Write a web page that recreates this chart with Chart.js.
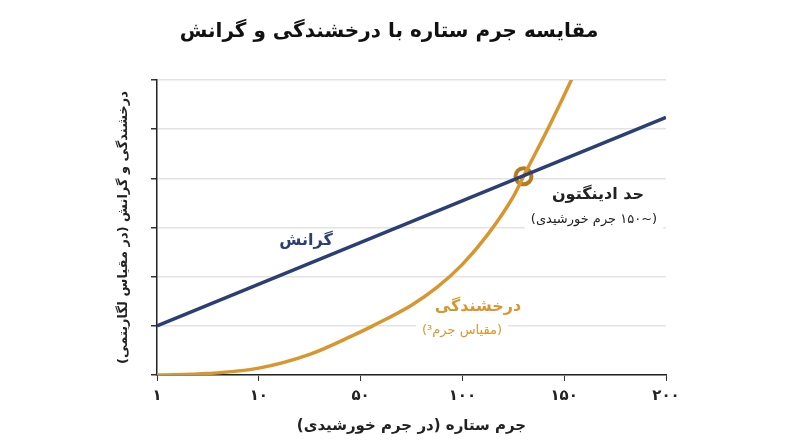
<!DOCTYPE html>
<html><head><meta charset="utf-8">
<script src="https://cdn.jsdelivr.net/npm/chart.js@4/dist/chart.umd.min.js"></script>
<style>html,body{margin:0;background:#fff}#w{width:800px;height:447px}</style>
</head><body><div id="w"><canvas id="c"></canvas></div>
<script>
const tickLabels = ['۱','۱۰','۵۰','۱۰۰','۱۵۰','۲۰۰'];
const massX = [0, 5];
const massY = [1, 5.24];
const lumX = [0, 0.5, 1.0, 1.5, 1.9, 2.12, 2.5, 2.75, 3.0, 3.25, 3.5, 3.6, 3.85, 4.07, 4.2];
const lumY = [0, 0.03, 0.14, 0.42, 0.78, 1.0, 1.42, 1.78, 2.25, 2.86, 3.63, 4.04, 5.05, 6.0, 6.6];
const crossPt = [3.6, 4.04];
const F = "'DejaVu Sans', 'Noto Sans', sans-serif";
const NAVY = '#2b3f74', GOLD = '#d8962e';

const items = [
  ['گرانش', 306, 241, 'bold 16px ', NAVY],
  ['حد ادینگتون', 598, 195, 'bold 16px ', '#222'],
  ['(~۱۵۰ جرم خورشیدی)', 594, 220, '13px ', '#222'],
  ['درخشندگی', 478, 307, 'bold 16px ', GOLD],
  ['(مقیاس جرم³)', 462, 331, '13px ', GOLD]
];
const labelsPlugin = {
  id: 'lbls',
  beforeDatasetsDraw(ch) {
    const c = ch.ctx; c.save(); c.fillStyle = '#fff';
    for (const [txt, px, py, f] of items) { c.font = f + F; const w = c.measureText(txt).width; c.fillRect(px - w/2 - 6, py - 11, w + 12, 22); }
    c.restore();
  },
  afterDatasetsDraw(ch) {
    const c = ch.ctx;
    for (const [txt, px, py, f, col] of items) {
      c.save(); c.font = f + F; c.direction = 'rtl'; c.textAlign = 'center'; c.textBaseline = 'middle';
      c.fillStyle = col; c.fillText(txt, px, py); c.restore();
    }
  }
};

new Chart(document.getElementById('c'), {
  type: 'scatter',
  data: { datasets: [
    { data: massX.map((v,i)=>({x:v,y:massY[i]})), showLine:true, borderColor:NAVY, borderWidth:3.5, pointRadius:0 },
    { data: lumX.map((v,i)=>({x:v,y:lumY[i]})), showLine:true, borderColor:GOLD, borderWidth:3.5, pointRadius:0, cubicInterpolationMode:'monotone' },
    { data: [{x:crossPt[0], y:crossPt[1]}], pointRadius:8, pointBorderWidth:4, pointBackgroundColor:'#fff', pointBorderColor:'#b87a1e' }
  ]},
  options: {
    responsive:true, maintainAspectRatio:false, animation:false,
    layout:{ padding:{ left:112, right:134, top:0, bottom:8 } },
    plugins:{ legend:{display:false}, tooltip:{enabled:false},
      title:{ display:true, text:'مقایسه جرم ستاره با درخشندگی و گرانش', font:{family:F, size:20, weight:'bold'}, color:'#111', padding:{top:20,bottom:36} } },
    scales:{
      x:{ type:'linear', min:0, max:5,
        ticks:{ stepSize:1, callback:v=>tickLabels[v], font:{family:F, size:15, weight:'bold'}, color:'#222', padding:6 },
        grid:{ display:true, drawOnChartArea:false, tickLength:6, color:'#333' },
        border:{ color:'#222', width:1.5 },
        title:{ display:true, text:'جرم ستاره (در جرم خورشیدی)', font:{family:F, size:15, weight:'bold'}, color:'#222', padding:{top:6} } },
      y:{ min:0, max:6,
        ticks:{ stepSize:1, callback:()=>'' , padding:0},
        grid:{ color:'#e3e3e3', lineWidth:1.5, tickColor:'#333', tickLength:6 },
        border:{ color:'#222', width:1.5 },
        afterFit: s => { s.width = 45; },
        title:{ display:true, text:'درخشندگی و گرانش (در مقیاس لگاریتمی)', font:{family:F, size:13, weight:'bold'}, color:'#222', padding:{bottom:8} } }
    }
  },
  plugins:[labelsPlugin]
});
</script></body></html>
